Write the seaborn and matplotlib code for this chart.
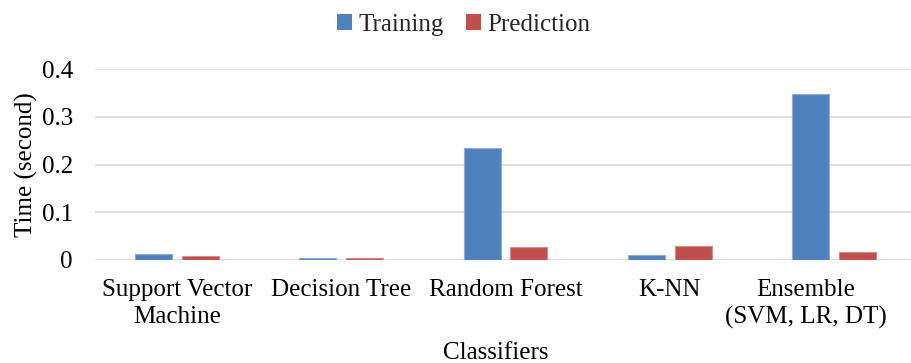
import matplotlib
matplotlib.use("Agg")
import matplotlib.pyplot as plt
import matplotlib.colors as mcolors
import matplotlib.transforms as mtransforms
from matplotlib.patches import Patch
import seaborn as sns
import pandas as pd

# Classifier timing results (seconds)
classifiers = ["Support Vector\nMachine", "Decision Tree", "Random Forest",
               "K-NN", "Ensemble\n(SVM, LR, DT)"]
training_time = [0.0135, 0.0036, 0.234, 0.0113, 0.348]
prediction_time = [0.0077, 0.0050, 0.0266, 0.0287, 0.016]
series_names = ["Training", "Prediction"]
series_colors = ["#4F81BD", "#C0504D"]
y_ticks = [0, 0.1, 0.2, 0.3, 0.4]
y_tick_labels = ["0", "0.1", "0.2", "0.3", "0.4"]

df = pd.DataFrame({
    "Classifier": classifiers * 2,
    "Series": [series_names[0]] * len(classifiers) + [series_names[1]] * len(classifiers),
    "Time": training_time + prediction_time,
})

sns.set_theme(style="white")
plt.rcParams["font.family"] = ["Liberation Serif", "DejaVu Serif"]
plt.rcParams["font.size"] = 18

fig = plt.figure(figsize=(9.12, 3.63), dpi=100)
ax = fig.add_axes([95 / 912, 103 / 363, 817 / 912, 190.8 / 363])

sns.barplot(data=df, x="Classifier", y="Time", hue="Series",
            hue_order=series_names, order=classifiers,
            palette=series_colors, width=0.57, gap=0.21,
            saturation=1, errorbar=None, legend=False, ax=ax, zorder=3)

# soft outline around each bar, as in office-style charts
for container, col in zip(ax.containers, series_colors):
    rgb = mcolors.to_rgb(col)
    edge = tuple(c + (1 - c) * 0.35 for c in rgb)
    for bar in container:
        bar.set_edgecolor(edge)
        bar.set_linewidth(0.8)

ax.set_xlim(-0.5, 4.475)
ax.set_ylim(0, 0.4)
ax.set_yticks(y_ticks)
ax.set_yticklabels(y_tick_labels)
ax.yaxis.grid(True, color="#D9D9D9", linewidth=1.2, zorder=0)
ax.set_axisbelow(True)
for s in ax.spines.values():
    s.set_visible(False)
ax.tick_params(axis="both", length=0, labelsize=18, colors="black")
ax.tick_params(axis="x", pad=14)
ax.tick_params(axis="y", pad=16)
xlabels = ax.get_xticklabels()
for lbl in xlabels:
    lbl.set_linespacing(1.25)
# keep the last category label inside the figure
xlabels[-1].set_transform(xlabels[-1].get_transform() +
                          mtransforms.ScaledTranslation(-0.28, 0, fig.dpi_scale_trans))

ax.set_xlabel("Classifiers", fontsize=18, color="black")
ax.xaxis.set_label_coords(0.49, -0.43)
ax.set_ylabel("Time (second)", fontsize=18, color="black")
ax.yaxis.set_label_coords(-0.070, 0.5)

handles = [Patch(facecolor=c, edgecolor="none") for c in series_colors]
fig.legend(handles, series_names, loc="center", bbox_to_anchor=(464 / 912, 1 - 25 / 363),
           ncol=2, frameon=False, fontsize=18, handlelength=0.6, handleheight=0.6,
           handletextpad=0.25, columnspacing=0.9, borderpad=0)

fig.savefig("out.png", dpi=100)
